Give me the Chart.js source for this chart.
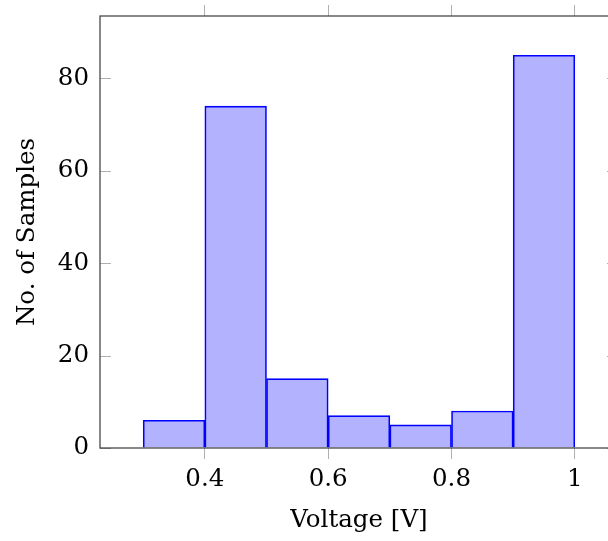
<!DOCTYPE html>
<html>
<head>
<meta charset="utf-8">
<script src="https://cdn.jsdelivr.net/npm/chart.js@4"></script>
<style>
  html, body { margin: 0; padding: 0; background: #fff; overflow: hidden; }
  #wrap { position: absolute; left: 0; top: 0; width: 640px; height: 541px; }
</style>
</head>
<body>
<div id="wrap"><canvas id="histCanvas"></canvas></div>
<script>
// histogram bins (edges) and counts
const binEdges = [0.3, 0.4, 0.5, 0.6, 0.7, 0.8, 0.9, 1.0];
const counts = [6, 74, 15, 7, 5, 8, 85];
const xTicks = [0.4, 0.6, 0.8, 1];
const yTicks = [0, 20, 40, 60, 80];

const FONT = "'DejaVu Serif', serif";
const FSIZE = 24.5;
const TICK_GRAY = '#b0b0b0';

// bars sit at the bin centres, width = one bin
let points = counts.map((c, i) => ({ x: (binEdges[i] + binEdges[i + 1]) / 2, y: c }));

// pgfplots style frame with inward y ticks
const framePlugin = {
  id: 'frame',
  afterDatasetsDraw(chart) {
    const ctx = chart.ctx;
    const a = chart.chartArea;
    const y = chart.scales.y;
    ctx.save();
    ctx.strokeStyle = TICK_GRAY;
    ctx.lineWidth = 1;
    yTicks.forEach(v => {
      let py = Math.round(y.getPixelForValue(v)) + 0.5;
      ctx.beginPath();
      ctx.moveTo(a.left, py); ctx.lineTo(a.left + 11, py);
      ctx.moveTo(a.right, py); ctx.lineTo(a.right - 11, py);
      ctx.stroke();
    });
    ctx.strokeStyle = '#3a3a3a';
    ctx.lineWidth = 1.2;
    ctx.strokeRect(a.left, a.top, a.right - a.left, a.bottom - a.top);
    ctx.restore();
  }
};

const ctx = document.getElementById('histCanvas');

new Chart(ctx, {
  type: 'bar',
  data: {
    datasets: [{
      data: points,
      backgroundColor: 'rgba(0, 0, 255, 0.3)',
      borderColor: '#0000ff',
      borderWidth: 1,
      barPercentage: 1,
      categoryPercentage: 1
    }]
  },
  options: {
    responsive: true,
    maintainAspectRatio: false,
    animation: false,
    layout: { padding: { left: 0, right: 22, top: 0, bottom: 0 } },
    plugins: { legend: { display: false }, tooltip: { enabled: false } },
    scales: {
      x: {
        type: 'linear',
        position: 'bottom',
        min: 0.23,
        max: 1.07,
        offset: false,
        afterBuildTicks: s => { s.ticks = xTicks.map(v => ({ value: v })); },
        afterFit: s => { s.height = 93; s.paddingLeft = 0; s.paddingRight = 0; },
        border: { display: false },
        grid: { drawOnChartArea: false, offset: false, tickLength: 11, color: TICK_GRAY },
        ticks: {
          color: '#000',
          padding: 6,
          maxRotation: 0,
          font: { family: FONT, size: FSIZE },
          callback: v => String(Number(v.toFixed(1)))
        },
        title: {
          display: true,
          text: 'Voltage [V]',
          color: '#000',
          font: { family: FONT, size: FSIZE },
          padding: { top: 0, bottom: 6 }
        }
      },
      x2: {
        type: 'linear',
        position: 'top',
        min: 0.23,
        max: 1.07,
        offset: false,
        afterBuildTicks: s => { s.ticks = xTicks.map(v => ({ value: v })); },
        afterFit: s => { s.height = 16; s.paddingLeft = 0; s.paddingRight = 0; },
        border: { display: false },
        grid: { drawOnChartArea: false, offset: false, tickLength: 11, color: TICK_GRAY },
        ticks: { display: false }
      },
      y: {
        min: 0,
        max: 93.5,
        afterBuildTicks: s => { s.ticks = yTicks.map(v => ({ value: v })); },
        afterFit: s => { s.width = 100; s.paddingTop = 0; s.paddingBottom = 0; },
        border: { display: false },
        grid: { drawOnChartArea: false, drawTicks: false },
        ticks: {
          color: '#000',
          padding: 11,
          font: { family: FONT, size: FSIZE }
        },
        title: {
          display: true,
          text: 'No. of Samples',
          color: '#000',
          font: { family: FONT, size: FSIZE },
          padding: { top: 13, bottom: 0 }
        }
      }
    }
  },
  plugins: [framePlugin]
});
</script>
</body>
</html>
